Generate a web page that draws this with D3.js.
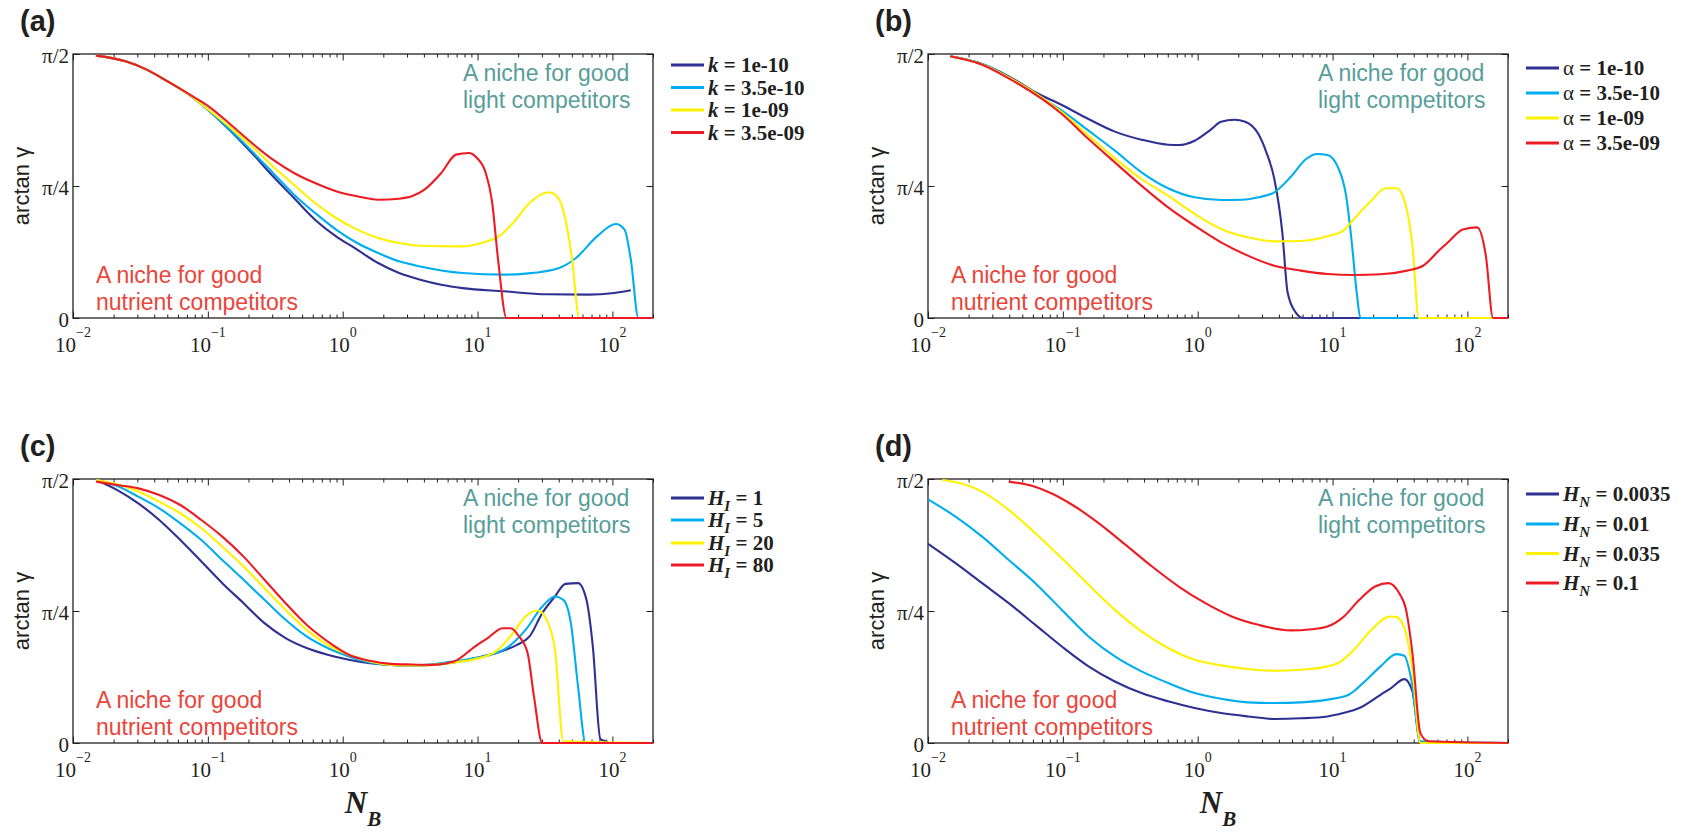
<!DOCTYPE html>
<html>
<head>
<meta charset="utf-8">
<script src="https://cdn.jsdelivr.net/npm/d3@7"></script>
<style>
  body { margin: 0; background: #fff; }
  text { fill: #231f20; }
</style>
</head>
<body>
<svg id="fig"></svg>
<script>
// ---- data (N_B, arctan gamma in radians) ----
let seriesColors = ["#2e3192", "#00aeef", "#fff200", "#ed1c24"];
let panelLabels = ["(a)", "(b)", "(c)", "(d)"];
let xMajorTicks = [0.01, 0.1, 1, 10, 100];
let xTickExps = ["\u22122", "\u22121", "0", "1", "2"];
let yTickValues = [0, Math.PI / 4, Math.PI / 2];
let yTickLabels = ["0", "\u03c0/4", "\u03c0/2"];

// (a) k
let kValues = ["1e-10", "3.5e-10", "1e-09", "3.5e-09"];
let kN = [
  [0.0148,0.0245,0.0352,0.0503,0.0721,0.1,0.148,0.212,0.304,0.435,0.624,0.893,1.28,1.83,2.62,3.76,5.38,7.71,15.8,32.4,66.5,103,137],
  [0.0148,0.0245,0.0352,0.0503,0.0721,0.1,0.148,0.212,0.304,0.435,0.624,0.893,1.28,1.83,2.62,3.76,7.71,15.8,22.7,40.3,53.7,76.9,106,123,137,156,200],
  [0.0148,0.0245,0.0352,0.0503,0.0721,0.1,0.148,0.212,0.304,0.435,0.624,0.893,1.28,1.83,2.62,3.76,7.71,11.0,14.2,18.3,24.3,33.6,38.8,44.9,49.9,56.9,200],
  [0.0148,0.0245,0.0352,0.0503,0.0721,0.103,0.148,0.212,0.304,0.435,0.624,0.893,1.28,1.83,2.62,3.25,4.04,5.38,6.92,8.59,9.91,11.5,12.8,14.2,16.4,200]
];
let kArctan = [
  [1.561,1.527,1.478,1.408,1.330,1.240,1.111,0.982,0.843,0.714,0.585,0.486,0.407,0.327,0.268,0.228,0.198,0.178,0.159,0.141,0.139,0.149,0.165],
  [1.561,1.527,1.478,1.408,1.330,1.240,1.115,0.992,0.863,0.734,0.625,0.526,0.446,0.387,0.337,0.307,0.268,0.258,0.264,0.298,0.357,0.486,0.559,0.526,0.347,0,0],
  [1.561,1.527,1.478,1.408,1.330,1.242,1.131,1.021,0.902,0.793,0.684,0.595,0.526,0.476,0.446,0.430,0.426,0.450,0.482,0.565,0.684,0.748,0.724,0.585,0.367,0,0],
  [1.561,1.527,1.478,1.408,1.333,1.255,1.150,1.041,0.942,0.863,0.803,0.754,0.724,0.704,0.710,0.724,0.764,0.863,0.972,0.982,0.952,0.863,0.694,0.347,0,0]
];

// (b) alpha
let alphaValues = ["1e-10", "3.5e-10", "1e-09", "3.5e-09"];
let alphaN = [
  [0.0146,0.0252,0.0397,0.0625,0.0983,0.155,0.243,0.383,0.603,0.723,0.949,1.25,1.49,1.87,2.25,2.82,3.23,3.70,4.24,4.64,5.32,6.09,200],
  [0.0146,0.0252,0.0397,0.0625,0.0983,0.155,0.243,0.383,0.603,0.949,1.49,2.15,2.82,3.70,4.86,6.37,7.64,9.16,10.98,12.6,13.8,15.1,16.1,200],
  [0.0146,0.0252,0.0397,0.0983,0.155,0.243,0.383,0.603,0.949,1.49,2.35,3.70,5.82,9.16,12.0,14.4,18.9,24.8,29.8,34.1,39.1,43.6,200],
  [0.0146,0.0252,0.0397,0.0983,0.155,0.243,0.383,0.603,0.949,1.49,2.35,3.70,5.82,9.16,14.4,22.7,35.7,46.9,61.5,73.8,92.5,118,137,155,200]
];
let alphaArctan = [
  [1.557,1.511,1.438,1.343,1.267,1.184,1.109,1.061,1.031,1.029,1.055,1.121,1.168,1.180,1.168,1.095,0.986,0.827,0.510,0.153,0.034,0,0],
  [1.557,1.511,1.432,1.333,1.234,1.115,0.996,0.867,0.772,0.718,0.702,0.704,0.718,0.748,0.837,0.946,0.976,0.970,0.896,0.728,0.470,0.153,0,0],
  [1.557,1.509,1.432,1.224,1.085,0.950,0.827,0.728,0.619,0.530,0.480,0.456,0.458,0.486,0.520,0.589,0.688,0.772,0.772,0.698,0.430,0,0],
  [1.557,1.507,1.426,1.214,1.065,0.926,0.787,0.658,0.549,0.450,0.371,0.311,0.282,0.262,0.256,0.260,0.282,0.311,0.401,0.460,0.526,0.539,0.371,0,0]
];

// (c) H_I
let hiValues = ["1", "5", "20", "80"];
let hiN = [
  [0.01485,0.0213,0.0305,0.0436,0.0625,0.0895,0.128,0.184,0.263,0.377,0.540,0.773,1.11,1.59,2.27,3.25,4.66,6.68,9.56,13.7,19.6,24.3,30.2,37.5,44.8,55.6,64.2,71.6,81.4,88.7,95.4,200],
  [0.01485,0.0213,0.0305,0.0436,0.0625,0.0895,0.128,0.184,0.263,0.377,0.540,0.773,1.11,1.59,2.27,3.25,4.66,6.68,9.56,13.7,17.0,22.7,30.2,37.5,43.3,49.2,55.6,63.3,200],
  [0.01485,0.0213,0.0305,0.0436,0.0625,0.0895,0.128,0.184,0.263,0.377,0.540,0.773,1.11,1.59,2.27,3.25,4.66,6.68,9.56,13.7,18.3,22.7,28.1,32.5,37.5,43.3,200],
  [0.01485,0.0213,0.0305,0.0436,0.0625,0.0895,0.128,0.184,0.263,0.377,0.540,0.773,1.11,1.59,2.27,3.25,4.66,6.68,9.56,11.9,15.3,17.6,20.3,23.5,26.2,30.2,200]
];
let hiArctan = [
  [1.565,1.505,1.426,1.327,1.208,1.080,0.951,0.832,0.713,0.624,0.565,0.525,0.495,0.475,0.465,0.462,0.465,0.479,0.505,0.535,0.584,0.634,0.773,0.872,0.947,0.951,0.852,0.574,0.024,0.010,0,0],
  [1.565,1.529,1.466,1.396,1.307,1.208,1.089,0.971,0.852,0.733,0.634,0.565,0.515,0.479,0.465,0.462,0.469,0.485,0.505,0.535,0.574,0.673,0.812,0.872,0.852,0.713,0.337,0,0],
  [1.565,1.539,1.496,1.436,1.367,1.278,1.169,1.050,0.921,0.792,0.673,0.584,0.525,0.485,0.465,0.462,0.465,0.479,0.499,0.545,0.654,0.753,0.788,0.733,0.555,0.010,0],
  [1.555,1.535,1.515,1.476,1.416,1.327,1.228,1.109,0.971,0.832,0.703,0.604,0.525,0.489,0.471,0.467,0.465,0.485,0.574,0.624,0.683,0.683,0.634,0.535,0.277,0,0]
];

// (d) H_N
let hnValues = ["0.0035", "0.01", "0.035", "0.1"];
let hnN = [
  [0.01,0.0160,0.0252,0.0397,0.0625,0.0983,0.155,0.243,0.383,0.603,0.949,1.49,2.35,3.70,5.82,9.16,12.0,15.8,22.7,27.2,34.1,39.1,44.8,200],
  [0.01,0.0160,0.0252,0.0397,0.0625,0.0983,0.155,0.243,0.383,0.603,0.949,1.49,2.35,3.70,5.82,9.16,13.2,17.3,22.7,29.8,34.1,38.4,44.8,200],
  [0.01277,0.0175,0.0252,0.0397,0.0625,0.0983,0.155,0.243,0.383,0.603,0.949,1.49,2.35,3.70,5.82,9.16,10.98,14.4,18.9,26.7,29.8,34.1,39.1,44.8,200],
  [0.0397,0.0597,0.0820,0.118,0.185,0.292,0.459,0.723,1.14,1.79,2.82,4.86,6.98,9.16,12.0,15.8,20.7,26.0,31.2,35.1,39.1,44.8,51.3,200]
];
let hnArctan = [
  [1.185,1.070,0.951,0.832,0.703,0.574,0.456,0.366,0.297,0.248,0.208,0.178,0.158,0.143,0.147,0.158,0.178,0.208,0.287,0.327,0.380,0.307,0,0],
  [1.450,1.347,1.228,1.089,0.951,0.792,0.634,0.515,0.426,0.357,0.297,0.263,0.242,0.238,0.242,0.258,0.287,0.366,0.456,0.529,0.519,0.376,0.010,0],
  [1.565,1.545,1.496,1.387,1.248,1.099,0.941,0.792,0.664,0.565,0.495,0.462,0.440,0.430,0.436,0.456,0.475,0.555,0.664,0.753,0.749,0.683,0.436,0,0],
  [1.555,1.529,1.486,1.416,1.307,1.179,1.050,0.931,0.832,0.753,0.703,0.670,0.677,0.693,0.749,0.852,0.931,0.951,0.891,0.792,0.535,0.059,0.010,0]
];

// ---- layout ----
let width = 580, height = 264;
let serif = "'Liberation Serif', 'Times New Roman', serif";
let sans = "'Liberation Sans', Arial, sans-serif";

let svg = d3.select("#fig")
  .attr("width", 1682)
  .attr("height", 833)
  .style("display", "block");

let x = d3.scaleLog().domain([0.01, 200]).range([0, width]);
let y = d3.scaleLinear().domain([0, Math.PI / 2]).range([height, 0]);

let line = d3.line()
  .curve(d3.curveMonotoneX)
  .x(function(d) { return x(d[0]); })
  .y(function(d) { return y(d[1]); });

// legend symbol writers
function boldItalic(t, s) { return t.append("tspan").attr("font-style", "italic").attr("font-weight", "bold").text(s); }
let symK = function(t) { boldItalic(t, "k"); return 0; };
let symAlpha = function(t) { t.append("tspan").attr("font-weight", "normal").text("\u03b1"); return 0; };
let symH = function(sub) {
  return function(t) {
    boldItalic(t, "H");
    boldItalic(t, sub).attr("font-size", 15).attr("dy", 6);
    return -6;
  };
};

let panels = [
  {left: 73, top: 54, N: kN, V: kArctan, vals: kValues, sym: symK, rows: [11, 33.5, 56, 78.5], xlabel: false},
  {left: 928, top: 54, N: alphaN, V: alphaArctan, vals: alphaValues, sym: symAlpha, rows: [14, 39, 64, 89], xlabel: false},
  {left: 73, top: 479, N: hiN, V: hiArctan, vals: hiValues, sym: symH("I"), rows: [19, 41, 64, 86], xlabel: true},
  {left: 928, top: 479, N: hnN, V: hnArctan, vals: hnValues, sym: symH("N"), rows: [15, 45, 74.5, 104], xlabel: true}
];

let allTicks = x.ticks();
let minorTicks = allTicks.filter(function(t) { return Math.abs(Math.log10(t) - Math.round(Math.log10(t))) > 1e-6; });

panels.forEach(function(p, pi) {
  let g = svg.append("g").attr("transform", "translate(" + p.left + "," + p.top + ")");

  // panel label
  g.append("text")
    .attr("x", -53).attr("y", -23)
    .attr("font-family", sans).attr("font-weight", "bold").attr("font-size", 29)
    .text(panelLabels[pi]);

  // axes with inside ticks
  g.append("g").attr("transform", "translate(0," + height + ")")
    .call(d3.axisBottom(x).tickValues(minorTicks).tickSize(-3.5).tickFormat(""));
  g.append("g").attr("transform", "translate(0," + height + ")")
    .call(d3.axisBottom(x).tickValues(xMajorTicks).tickSize(-6.5).tickFormat(""));
  g.append("g").call(d3.axisTop(x).tickValues(minorTicks).tickSize(-3.5).tickFormat(""));
  g.append("g").call(d3.axisTop(x).tickValues(xMajorTicks).tickSize(-6.5).tickFormat(""));
  g.append("g").call(d3.axisLeft(y).tickValues(yTickValues).tickSize(-6.5).tickFormat(""));
  g.append("g").attr("transform", "translate(" + width + ",0)")
    .call(d3.axisRight(y).tickValues(yTickValues).tickSize(-6.5).tickFormat(""));
  g.selectAll(".domain").remove();
  g.selectAll(".tick line").attr("stroke", "#231f20").attr("stroke-width", 1);

  g.append("rect")
    .attr("width", width).attr("height", height)
    .attr("fill", "none").attr("stroke", "#231f20").attr("stroke-width", 1.3);

  // x tick labels 10^n
  xMajorTicks.forEach(function(t, i) {
    let tx = g.append("text")
      .attr("x", x(t)).attr("y", height + 34)
      .attr("text-anchor", "middle")
      .attr("font-family", serif).attr("font-size", 21);
    tx.append("tspan").text("10");
    tx.append("tspan").attr("font-size", 14).attr("dy", -15).text(xTickExps[i]);
  });

  // y tick labels
  yTickValues.forEach(function(t, i) {
    g.append("text")
      .attr("x", -4).attr("y", y(t) + 9)
      .attr("text-anchor", "end")
      .attr("font-family", serif).attr("font-size", 21)
      .text(yTickLabels[i]);
  });

  // y axis title
  g.append("text")
    .attr("transform", "translate(-44," + (height / 2) + ") rotate(-90)")
    .attr("text-anchor", "middle")
    .attr("font-family", sans).attr("font-size", 22)
    .text("arctan \u03b3");

  // annotations
  let teal = g.append("text").attr("font-family", sans).attr("font-size", 23).style("fill", "#579e99");
  teal.append("tspan").attr("x", width - 190).attr("y", 27).text("A niche for good");
  teal.append("tspan").attr("x", width - 190).attr("y", 54).text("light competitors");
  let red = g.append("text").attr("font-family", sans).attr("font-size", 23).style("fill", "#e9453b");
  red.append("tspan").attr("x", 23).attr("y", height - 35).text("A niche for good");
  red.append("tspan").attr("x", 23).attr("y", height - 8).text("nutrient competitors");

  // curves
  p.N.forEach(function(ns, si) {
    g.append("path")
      .datum(d3.zip(ns, p.V[si]))
      .attr("d", line)
      .attr("fill", "none")
      .attr("stroke", seriesColors[si])
      .attr("stroke-width", 2.1)
      .attr("stroke-linejoin", "round");
  });

  // legend
  p.vals.forEach(function(v, si) {
    let ly = p.rows[si];
    g.append("line")
      .attr("x1", width + 18).attr("x2", width + 51)
      .attr("y1", ly).attr("y2", ly)
      .attr("stroke", seriesColors[si]).attr("stroke-width", 3);
    let t = g.append("text")
      .attr("x", width + 55).attr("y", ly + 7)
      .attr("font-family", serif).attr("font-size", 21).attr("font-weight", "bold");
    let back = p.sym(t);
    t.append("tspan").attr("dy", back).text(" = " + v);
  });

  // x axis title
  if (p.xlabel) {
    let xt = g.append("text")
      .attr("x", width / 2).attr("y", height + 70)
      .attr("text-anchor", "middle")
      .attr("font-family", serif).attr("font-size", 31)
      .attr("font-weight", "bold").attr("font-style", "italic");
    xt.append("tspan").text("N");
    xt.append("tspan").attr("font-size", 21).attr("dy", 13).text("B");
  }
});
</script>
</body>
</html>
